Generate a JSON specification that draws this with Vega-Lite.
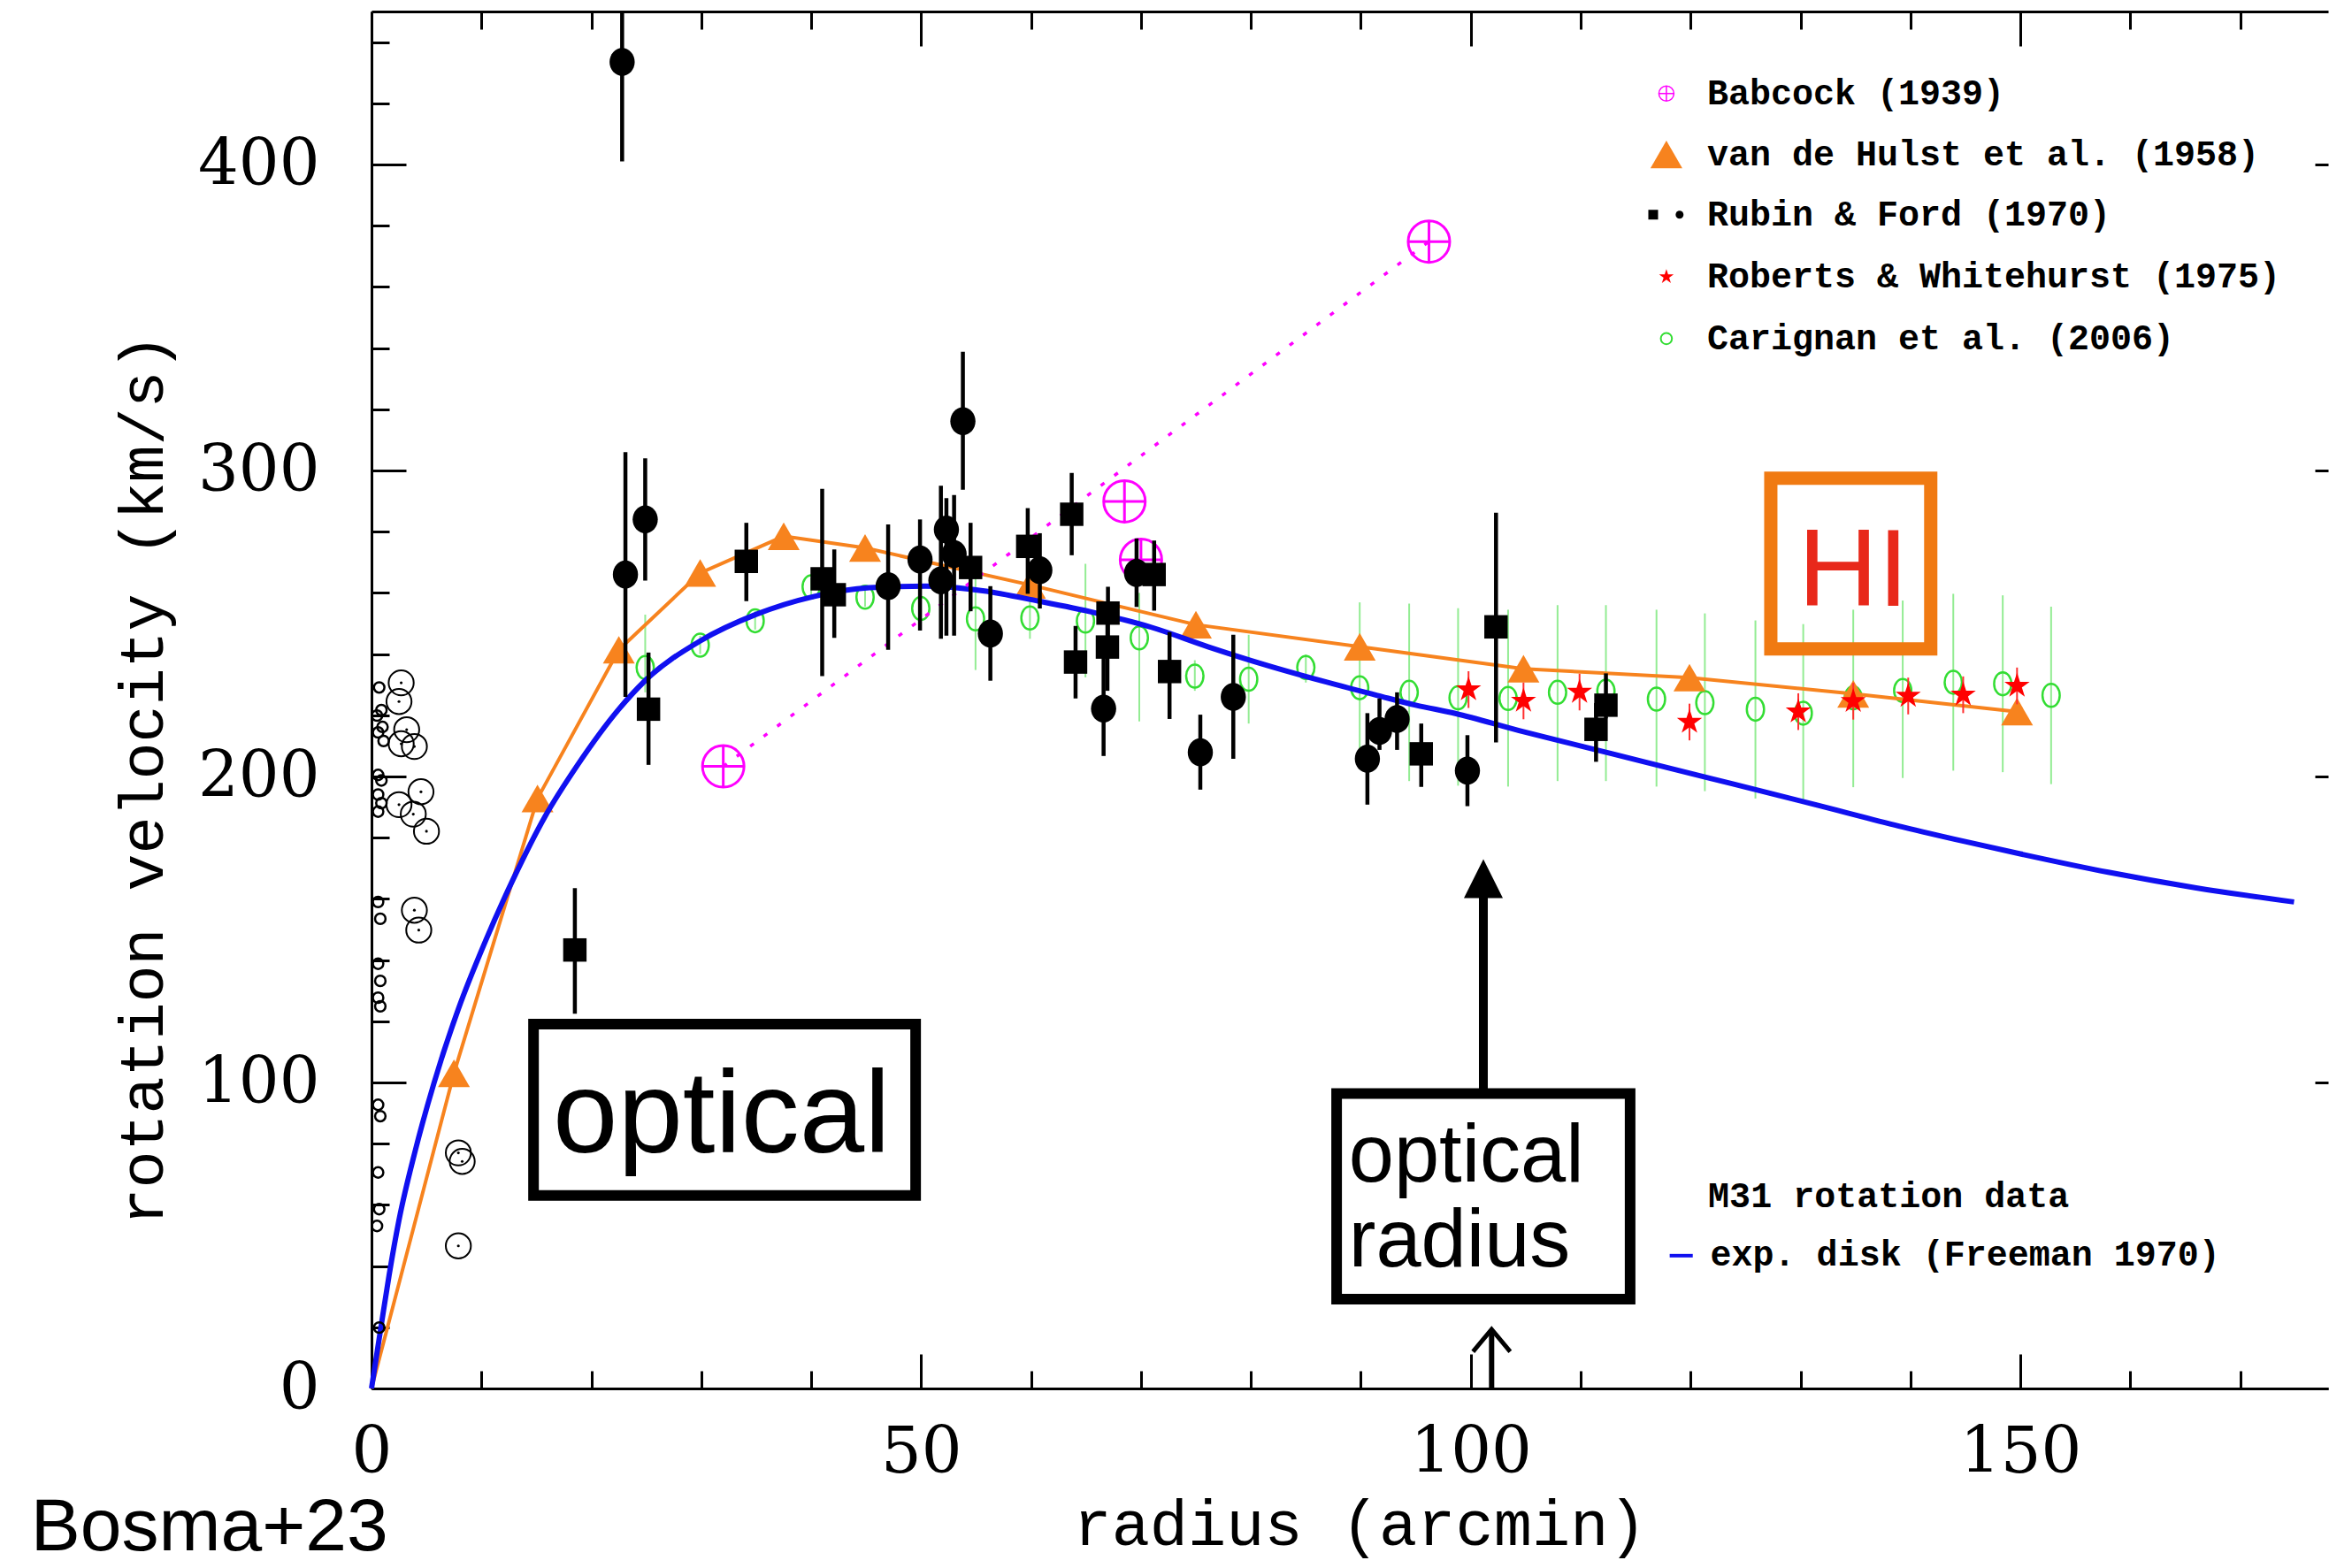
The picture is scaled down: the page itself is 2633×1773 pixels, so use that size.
{
  "$schema": "https://vega.github.io/schema/vega-lite/v6.json",
  "width": 2212,
  "height": 1557,
  "autosize": {"type": "none"},
  "padding": {"left": 420, "top": 13, "right": 1, "bottom": 203},
  "background": "white",
  "config": {"view": {"stroke": null}},
  "datasets": {
    "car": [
      {"x": 24.9, "y": 235.6, "lo": 227.5, "hi": 252.9},
      {"x": 29.9, "y": 242.9, "lo": 240, "hi": 246},
      {"x": 34.9, "y": 250.9, "lo": 248, "hi": 254},
      {"x": 40.0, "y": 262.0, "lo": 259, "hi": 265},
      {"x": 44.9, "y": 258.6, "lo": 255.5, "hi": 261.5},
      {"x": 49.97, "y": 254.9, "lo": 250, "hi": 260},
      {"x": 54.95, "y": 251.5, "lo": 234.8, "hi": 268.9},
      {"x": 59.9, "y": 251.8, "lo": 245, "hi": 258.5},
      {"x": 64.95, "y": 250.8, "lo": 232.4, "hi": 269.5},
      {"x": 69.85, "y": 245.3, "lo": 218, "hi": 260},
      {"x": 74.9, "y": 232.8, "lo": 228, "hi": 238},
      {"x": 79.8, "y": 231.8, "lo": 217.3, "hi": 246.3},
      {"x": 85.0, "y": 235.6, "lo": 230.7, "hi": 239.9},
      {"x": 89.9, "y": 229.0, "lo": 204.9, "hi": 256.9},
      {"x": 94.4, "y": 227.5, "lo": 198.5, "hi": 256.5},
      {"x": 98.85, "y": 225.7, "lo": 197, "hi": 255},
      {"x": 103.4, "y": 225.5, "lo": 196.7, "hi": 254.5},
      {"x": 107.9, "y": 227.5, "lo": 198.5, "hi": 256},
      {"x": 112.3, "y": 227.9, "lo": 198.5, "hi": 256},
      {"x": 116.9, "y": 225.3, "lo": 196.7, "hi": 254.5},
      {"x": 121.3, "y": 224.1, "lo": 195.2, "hi": 253.3},
      {"x": 125.9, "y": 222.0, "lo": 192.8, "hi": 251},
      {"x": 130.25, "y": 220.7, "lo": 191.8, "hi": 249.8},
      {"x": 134.8, "y": 225.7, "lo": 196.5, "hi": 254.5},
      {"x": 139.3, "y": 228.1, "lo": 199.5, "hi": 257.5},
      {"x": 143.9, "y": 230.8, "lo": 201.9, "hi": 259.7},
      {"x": 148.4, "y": 230.3, "lo": 201.4, "hi": 259.2},
      {"x": 152.8, "y": 226.5, "lo": 197.5, "hi": 255.5}
    ],
    "vdh": [
      {"x": 0, "y": 0},
      {"x": 7.5, "y": 103},
      {"x": 15.1, "y": 192.8},
      {"x": 22.5, "y": 241.4},
      {"x": 29.9, "y": 266.5},
      {"x": 37.5, "y": 278.5},
      {"x": 44.9, "y": 274.7},
      {"x": 59.9, "y": 262.6},
      {"x": 75.0, "y": 249.6},
      {"x": 89.9, "y": 242.4},
      {"x": 104.8, "y": 235.2},
      {"x": 119.9, "y": 232.3},
      {"x": 134.8, "y": 227.0},
      {"x": 149.7, "y": 221.2}
    ],
    "disk": [
      {"x": 0, "y": 0}, {"x": 0.9, "y": 21}, {"x": 1.6, "y": 37}, {"x": 2.5, "y": 55},
      {"x": 4.0, "y": 78}, {"x": 5.7, "y": 100}, {"x": 7.9, "y": 124}, {"x": 10.4, "y": 146.5},
      {"x": 12.9, "y": 166.5}, {"x": 15.8, "y": 187}, {"x": 18.7, "y": 203.5}, {"x": 22.5, "y": 222},
      {"x": 24.8, "y": 231}, {"x": 29.9, "y": 244.3}, {"x": 35.0, "y": 253}, {"x": 40.2, "y": 258.8},
      {"x": 45.3, "y": 261.7}, {"x": 50.4, "y": 262.2}, {"x": 55.6, "y": 260.7}, {"x": 60.7, "y": 257.3},
      {"x": 65.8, "y": 253.5}, {"x": 71.0, "y": 248.7}, {"x": 76.1, "y": 242.4}, {"x": 81.2, "y": 236.6},
      {"x": 86.4, "y": 231.3}, {"x": 91.5, "y": 226.5}, {"x": 95.0, "y": 223.3}, {"x": 98.6, "y": 220.6},
      {"x": 104.4, "y": 215}, {"x": 110.2, "y": 209.8}, {"x": 116.0, "y": 204.6}, {"x": 121.8, "y": 199.4},
      {"x": 127.6, "y": 194.2}, {"x": 133.4, "y": 188.9}, {"x": 139.3, "y": 183.5}, {"x": 145.0, "y": 178.7},
      {"x": 150.0, "y": 174.7}, {"x": 158.0, "y": 168.7}, {"x": 166.0, "y": 163.6}, {"x": 174.9, "y": 159}
    ],
    "bab": [
      {"x": 32.0, "y": 203.3},
      {"x": 68.5, "y": 289.9},
      {"x": 70.0, "y": 270.8},
      {"x": 96.2, "y": 374.8}
    ],
    "babline": [
      {"x": 32.0, "y": 203.3},
      {"x": 96.2, "y": 374.8}
    ],
    "rfc": [
      {"x": 22.8, "y": 433.5, "lo": 401, "hi": 450},
      {"x": 23.1, "y": 266, "lo": 226, "hi": 306},
      {"x": 24.9, "y": 284, "lo": 264, "hi": 304},
      {"x": 47.0, "y": 262.2, "lo": 241.4, "hi": 282.4},
      {"x": 49.9, "y": 270.9, "lo": 247.7, "hi": 284},
      {"x": 52.3, "y": 280.7, "lo": 246, "hi": 291},
      {"x": 53.0, "y": 272.7, "lo": 246, "hi": 292},
      {"x": 51.8, "y": 264.1, "lo": 245, "hi": 295},
      {"x": 53.8, "y": 316.1, "lo": 293.7, "hi": 338.8},
      {"x": 56.3, "y": 246.7, "lo": 231.3, "hi": 262.2},
      {"x": 60.8, "y": 267.4, "lo": 254.9, "hi": 279.5},
      {"x": 69.6, "y": 266.5, "lo": 255.4, "hi": 277.8},
      {"x": 66.6, "y": 222.2, "lo": 206.7, "hi": 239},
      {"x": 75.4, "y": 207.9, "lo": 195.7, "hi": 220.2},
      {"x": 78.4, "y": 226, "lo": 205.8, "hi": 246.3},
      {"x": 90.6, "y": 205.8, "lo": 190.8, "hi": 220.7},
      {"x": 91.7, "y": 214.9, "lo": 208.7, "hi": 225.5},
      {"x": 93.3, "y": 218.8, "lo": 208.7, "hi": 227.5},
      {"x": 99.7, "y": 201.9, "lo": 190.3, "hi": 213.5}
    ],
    "rfs": [
      {"x": 18.5, "y": 143.3, "lo": 122.5, "hi": 163.5},
      {"x": 25.2, "y": 222, "lo": 203.8, "hi": 240.5},
      {"x": 34.1, "y": 270.3, "lo": 257.3, "hi": 282.9},
      {"x": 41.0, "y": 264.6, "lo": 232.8, "hi": 294},
      {"x": 42.1, "y": 259.4, "lo": 245.3, "hi": 274.2},
      {"x": 54.5, "y": 268.3, "lo": 254, "hi": 282.9},
      {"x": 59.7, "y": 275.2, "lo": 259.7, "hi": 287.7},
      {"x": 63.7, "y": 285.7, "lo": 272.3, "hi": 299.2},
      {"x": 64.05, "y": 237.4, "lo": 225.5, "hi": 249.2},
      {"x": 67.0, "y": 253.4, "lo": 244, "hi": 262},
      {"x": 66.95, "y": 242.3, "lo": 228, "hi": 252},
      {"x": 71.2, "y": 266, "lo": 254.2, "hi": 277.1},
      {"x": 72.6, "y": 234.3, "lo": 218.8, "hi": 247.2},
      {"x": 95.5, "y": 207.4, "lo": 196.6, "hi": 217.3},
      {"x": 102.3, "y": 248.9, "lo": 211.1, "hi": 286.2},
      {"x": 111.4, "y": 215.4, "lo": 204.8, "hi": 224},
      {"x": 112.3, "y": 223.3, "lo": 219, "hi": 233.7}
    ],
    "rw": [
      {"x": 99.8, "y": 228.4, "lo": 222.4, "hi": 234.4},
      {"x": 104.8, "y": 224.7, "lo": 218.7, "hi": 230.7},
      {"x": 109.9, "y": 227.6, "lo": 221.6, "hi": 233.6},
      {"x": 119.9, "y": 217.8, "lo": 211.8, "hi": 223.8},
      {"x": 129.8, "y": 221.2, "lo": 215.2, "hi": 227.2},
      {"x": 134.8, "y": 224.6, "lo": 218.6, "hi": 230.6},
      {"x": 139.8, "y": 226.3, "lo": 220.3, "hi": 232.3},
      {"x": 144.8, "y": 226.7, "lo": 220.7, "hi": 232.7},
      {"x": 149.7, "y": 229.6, "lo": 223.6, "hi": 235.6}
    ],
    "ocbig": [
      {"x": 2.7, "y": 230.6}, {"x": 2.5, "y": 224.5}, {"x": 3.2, "y": 215.3}, {"x": 2.7, "y": 210.7},
      {"x": 3.9, "y": 209.8}, {"x": 4.5, "y": 195.0}, {"x": 2.5, "y": 190.8}, {"x": 3.8, "y": 187.7},
      {"x": 5.0, "y": 182.1}, {"x": 3.9, "y": 156.3}, {"x": 4.3, "y": 149.8}, {"x": 7.9, "y": 77.0},
      {"x": 8.25, "y": 74.2}, {"x": 7.9, "y": 46.6}
    ],
    "ocsmall": [
      {"x": 0.7, "y": 229.1}, {"x": 0.9, "y": 221.7}, {"x": 0.5, "y": 219.9}, {"x": 1.0, "y": 216.2},
      {"x": 0.6, "y": 214.4}, {"x": 1.1, "y": 211.6}, {"x": 0.6, "y": 200.5}, {"x": 0.9, "y": 198.7},
      {"x": 0.6, "y": 194.1}, {"x": 0.9, "y": 191.3}, {"x": 0.6, "y": 188.5}, {"x": 0.6, "y": 159.0},
      {"x": 0.8, "y": 153.5}, {"x": 0.6, "y": 138.8}, {"x": 0.8, "y": 133.2}, {"x": 0.6, "y": 127.7},
      {"x": 0.8, "y": 124.9}, {"x": 0.6, "y": 92.7}, {"x": 0.8, "y": 89.0}, {"x": 0.6, "y": 70.6},
      {"x": 0.7, "y": 58.6}, {"x": 0.5, "y": 53.1}, {"x": 0.7, "y": 19.9}
    ],
    "legend": [
      {"x": 121.5, "y": 423.2, "t": "Babcock (1939)"},
      {"x": 121.5, "y": 403.3, "t": "van de Hulst et al. (1958)"},
      {"x": 121.5, "y": 383.6, "t": "Rubin & Ford (1970)"},
      {"x": 121.5, "y": 363.3, "t": "Roberts & Whitehurst (1975)"},
      {"x": 121.5, "y": 343.1, "t": "Carignan et al. (2006)"},
      {"x": 121.6, "y": 62.8, "t": "M31 rotation data"},
      {"x": 121.8, "y": 43.7, "t": "exp. disk (Freeman 1970)"}
    ]
  },
  "layer": [
    {
      "data": {"name": "car"},
      "mark": {"type": "rule", "color": "#93ec93", "strokeWidth": 2},
      "encoding": {
        "x": {
          "field": "x", "type": "quantitative",
          "scale": {"domain": [0, 178], "nice": false, "zero": false},
          "axis": {
            "orient": "bottom",
            "values": [0, 10, 20, 30, 40, 50, 60, 70, 80, 90, 100, 110, 120, 130, 140, 150, 160, 170],
            "labelExpr": "datum.value % 50 === 0 ? datum.label : ''",
            "labelFont": "DejaVu Serif", "labelFontSize": 72, "labelColor": "black", "labelPadding": 76,
            "labelFlush": false, "labelOverlap": false,
            "tickSize": {"condition": {"test": "datum.value % 50 === 0", "value": -39}, "value": -20},
            "tickWidth": 3, "tickColor": "black",
            "domainWidth": 3, "domainColor": "black", "grid": false,
            "title": "radius (arcmin)", "titleFont": "Liberation Mono", "titleFontSize": 72,
            "titleFontWeight": "normal", "titleColor": "black",
            "titleX": 1117, "titleY": 176, "titleBaseline": "alphabetic", "titleAlign": "center"
          }
        },
        "y": {
          "field": "lo", "type": "quantitative",
          "scale": {"domain": [0, 450], "nice": false, "zero": false},
          "axis": {
            "orient": "left",
            "values": [0, 20, 40, 60, 80, 100, 120, 140, 160, 180, 200, 220, 240, 260, 280, 300, 320, 340, 360, 380, 400, 420, 440],
            "labelExpr": "datum.value % 100 === 0 ? datum.label : ''",
            "labelFont": "DejaVu Serif", "labelFontSize": 72, "labelColor": "black", "labelPadding": 98,
            "labelFlush": false, "labelOverlap": false,
            "tickSize": {"condition": {"test": "datum.value % 100 === 0", "value": -39}, "value": -20},
            "tickWidth": 3, "tickColor": "black",
            "domainWidth": 3, "domainColor": "black", "grid": false,
            "title": "rotation velocity (km/s)", "titleFont": "Liberation Mono", "titleFontSize": 70,
            "titleFontWeight": "normal", "titleColor": "black", "titleAngle": -90,
            "titleX": -237, "titleY": 868, "titleBaseline": "alphabetic", "titleAlign": "center"
          }
        },
        "y2": {"field": "hi"}
      }
    },
    {
      "data": {"name": "car"},
      "mark": {"type": "point", "shape": "M-0.75,0A0.75,1,0,1,1,0.75,0A0.75,1,0,1,1,-0.75,0Z", "filled": false, "color": "#33dd33", "strokeWidth": 2.5, "size": 676, "opacity": 1},
      "encoding": {
        "x": {
          "field": "x", "type": "quantitative",
          "axis": {
            "orient": "top",
            "values": [0, 10, 20, 30, 40, 50, 60, 70, 80, 90, 100, 110, 120, 130, 140, 150, 160, 170],
            "labels": false,
            "tickSize": {"condition": {"test": "datum.value % 50 === 0", "value": -39}, "value": -20},
            "tickWidth": 3, "tickColor": "black",
            "domainWidth": 3, "domainColor": "black", "grid": false, "title": null
          }
        },
        "y": {
          "field": "y", "type": "quantitative",
          "axis": {
            "orient": "right",
            "values": [0, 100, 200, 300, 400],
            "labels": false, "tickSize": -15, "tickWidth": 3, "tickColor": "black",
            "domain": false, "grid": false, "title": null
          }
        }
      }
    },
    {
      "data": {"name": "vdh"},
      "mark": {"type": "line", "color": "#f7831e", "strokeWidth": 4},
      "encoding": {
        "x": {"field": "x", "type": "quantitative", "axis": null},
        "y": {"field": "y", "type": "quantitative", "axis": null}
      }
    },
    {
      "data": {"name": "vdh"},
      "transform": [{"filter": "datum.x > 0"}],
      "mark": {"type": "point", "shape": "triangle-up", "filled": true, "color": "#f7831e", "size": 1300, "opacity": 1},
      "encoding": {
        "x": {"field": "x", "type": "quantitative", "axis": null},
        "y": {"field": "y", "type": "quantitative", "axis": null}
      }
    },
    {
      "data": {"name": "disk"},
      "mark": {"type": "line", "color": "#1010f0", "strokeWidth": 6, "interpolate": "monotone"},
      "encoding": {
        "x": {"field": "x", "type": "quantitative", "axis": null},
        "y": {"field": "y", "type": "quantitative", "axis": null}
      }
    },
    {
      "data": {"name": "babline"},
      "mark": {"type": "line", "color": "#ff00ff", "strokeWidth": 3.5, "strokeDash": [5, 14]},
      "encoding": {
        "x": {"field": "x", "type": "quantitative", "axis": null},
        "y": {"field": "y", "type": "quantitative", "axis": null}
      }
    },
    {
      "data": {"name": "bab"},
      "mark": {"type": "point", "shape": "M-1,0A1,1,0,1,1,1,0A1,1,0,1,1,-1,0M-1,0L1,0M0,-1L0,1", "filled": false, "color": "#ff00ff", "strokeWidth": 3, "size": 2209, "opacity": 1},
      "encoding": {
        "x": {"field": "x", "type": "quantitative", "axis": null},
        "y": {"field": "y", "type": "quantitative", "axis": null}
      }
    },
    {
      "data": {"name": "rfc"},
      "mark": {"type": "rule", "color": "black", "strokeWidth": 4.5},
      "encoding": {
        "x": {"field": "x", "type": "quantitative", "axis": null},
        "y": {"field": "lo", "type": "quantitative", "axis": null},
        "y2": {"field": "hi"}
      }
    },
    {
      "data": {"name": "rfs"},
      "mark": {"type": "rule", "color": "black", "strokeWidth": 4.5},
      "encoding": {
        "x": {"field": "x", "type": "quantitative", "axis": null},
        "y": {"field": "lo", "type": "quantitative", "axis": null},
        "y2": {"field": "hi"}
      }
    },
    {
      "data": {"name": "rfc"},
      "mark": {"type": "point", "shape": "M-0.9,0A0.9,1,0,1,1,0.9,0A0.9,1,0,1,1,-0.9,0Z", "filled": true, "color": "black", "size": 1000, "opacity": 1},
      "encoding": {
        "x": {"field": "x", "type": "quantitative", "axis": null},
        "y": {"field": "y", "type": "quantitative", "axis": null}
      }
    },
    {
      "data": {"name": "rfs"},
      "mark": {"type": "square", "color": "black", "size": 700, "opacity": 1},
      "encoding": {
        "x": {"field": "x", "type": "quantitative", "axis": null},
        "y": {"field": "y", "type": "quantitative", "axis": null}
      }
    },
    {
      "data": {"name": "rw"},
      "mark": {"type": "rule", "color": "#ff3030", "strokeWidth": 2},
      "encoding": {
        "x": {"field": "x", "type": "quantitative", "axis": null},
        "y": {"field": "lo", "type": "quantitative", "axis": null},
        "y2": {"field": "hi"}
      }
    },
    {
      "data": {"name": "rw"},
      "mark": {"type": "point", "shape": "M0,-1L0.2245,-0.309L0.951,-0.309L0.363,0.118L0.588,0.809L0,0.382L-0.588,0.809L-0.363,0.118L-0.951,-0.309L-0.2245,-0.309Z", "filled": true, "color": "#ff0000", "size": 900, "opacity": 1},
      "encoding": {
        "x": {"field": "x", "type": "quantitative", "axis": null},
        "y": {"field": "y", "type": "quantitative", "axis": null}
      }
    },
    {
      "data": {"name": "ocbig"},
      "mark": {"type": "point", "shape": "circle", "filled": false, "color": "black", "strokeWidth": 2, "size": 804, "opacity": 1},
      "encoding": {
        "x": {"field": "x", "type": "quantitative", "axis": null},
        "y": {"field": "y", "type": "quantitative", "axis": null}
      }
    },
    {
      "data": {"name": "ocbig"},
      "mark": {"type": "point", "shape": "circle", "filled": true, "color": "black", "size": 10, "opacity": 1},
      "encoding": {
        "x": {"field": "x", "type": "quantitative", "axis": null},
        "y": {"field": "y", "type": "quantitative", "axis": null}
      }
    },
    {
      "data": {"name": "ocsmall"},
      "mark": {"type": "point", "shape": "circle", "filled": false, "color": "black", "strokeWidth": 2.5, "size": 140, "opacity": 1},
      "encoding": {
        "x": {"field": "x", "type": "quantitative", "axis": null},
        "y": {"field": "y", "type": "quantitative", "axis": null}
      }
    },
    {
      "data": {"values": [
        {"x": 14.74, "x2": 49.5, "y": 63.05, "y2": 119.1},
        {"x": 87.8, "x2": 114.5, "y": 29.2, "y2": 96.4}
      ]},
      "mark": {"type": "rect", "fillOpacity": 0, "stroke": "black", "strokeWidth": 12},
      "encoding": {
        "x": {"field": "x", "type": "quantitative", "axis": null},
        "x2": {"field": "x2"},
        "y": {"field": "y", "type": "quantitative", "axis": null},
        "y2": {"field": "y2"}
      }
    },
    {
      "data": {"values": [{"x": 127.3, "x2": 141.85, "y": 241.7, "y2": 297.5}]},
      "mark": {"type": "rect", "fillOpacity": 0, "stroke": "#f07a12", "strokeWidth": 15},
      "encoding": {
        "x": {"field": "x", "type": "quantitative", "axis": null},
        "x2": {"field": "x2"},
        "y": {"field": "y", "type": "quantitative", "axis": null},
        "y2": {"field": "y2"}
      }
    },
    {
      "data": {"values": [{"x": 16.5, "y": 77.1, "t": "optical"}]},
      "mark": {"type": "text", "font": "Liberation Sans", "fontSize": 132, "align": "left", "baseline": "alphabetic", "color": "black"},
      "encoding": {
        "x": {"field": "x", "type": "quantitative", "axis": null},
        "y": {"field": "y", "type": "quantitative", "axis": null},
        "text": {"field": "t"}
      }
    },
    {
      "data": {"values": [{"x": 88.9, "y": 67.5, "t": "optical"}, {"x": 88.9, "y": 40.0, "t": "radius"}]},
      "mark": {"type": "text", "font": "Liberation Sans", "fontSize": 92, "align": "left", "baseline": "alphabetic", "color": "black"},
      "encoding": {
        "x": {"field": "x", "type": "quantitative", "axis": null},
        "y": {"field": "y", "type": "quantitative", "axis": null},
        "text": {"field": "t"}
      }
    },
    {
      "data": {"values": [{"x": 134.8, "y": 255.9, "t": "HI"}]},
      "mark": {"type": "text", "font": "Liberation Sans", "fontSize": 125, "align": "center", "baseline": "alphabetic", "color": "#e8281a"},
      "encoding": {
        "x": {"field": "x", "type": "quantitative", "axis": null},
        "y": {"field": "y", "type": "quantitative", "axis": null},
        "text": {"field": "t"}
      }
    },
    {
      "data": {"values": [{"x": -31.0, "y": -53.0, "t": "Bosma+23"}]},
      "mark": {"type": "text", "font": "Liberation Sans", "fontSize": 84, "align": "left", "baseline": "alphabetic", "color": "black"},
      "encoding": {
        "x": {"field": "x", "type": "quantitative", "axis": null},
        "y": {"field": "y", "type": "quantitative", "axis": null},
        "text": {"field": "t"}
      }
    },
    {
      "data": {"values": [{"x": 101.15, "y": 96.4, "y2": 161}]},
      "mark": {"type": "rule", "color": "black", "strokeWidth": 10},
      "encoding": {
        "x": {"field": "x", "type": "quantitative", "axis": null},
        "y": {"field": "y", "type": "quantitative", "axis": null},
        "y2": {"field": "y2"}
      }
    },
    {
      "data": {"values": [{"x": 101.15, "y": 166.6}]},
      "mark": {"type": "point", "shape": "M0,-1L1,1L-1,1Z", "filled": true, "color": "black", "size": 1936, "opacity": 1},
      "encoding": {
        "x": {"field": "x", "type": "quantitative", "axis": null},
        "y": {"field": "y", "type": "quantitative", "axis": null}
      }
    },
    {
      "data": {"values": [{"x": 101.9, "y": 0, "y2": 18.5}]},
      "mark": {"type": "rule", "color": "black", "strokeWidth": 6},
      "encoding": {
        "x": {"field": "x", "type": "quantitative", "axis": null},
        "y": {"field": "y", "type": "quantitative", "axis": null},
        "y2": {"field": "y2"}
      }
    },
    {
      "data": {"values": [{"x": 101.9, "y": 15.7}]},
      "mark": {"type": "point", "shape": "M-1,0.6L0,-0.6L1,0.6", "filled": false, "color": "black", "strokeWidth": 5, "size": 1764, "opacity": 1},
      "encoding": {
        "x": {"field": "x", "type": "quantitative", "axis": null},
        "y": {"field": "y", "type": "quantitative", "axis": null}
      }
    },
    {
      "data": {"name": "legend"},
      "mark": {"type": "text", "font": "Liberation Mono", "fontWeight": "bold", "fontSize": 40, "align": "left", "baseline": "middle", "color": "black"},
      "encoding": {
        "x": {"field": "x", "type": "quantitative", "axis": null},
        "y": {"field": "y", "type": "quantitative", "axis": null},
        "text": {"field": "t"}
      }
    },
    {
      "data": {"values": [{"x": 117.8, "y": 423.2}]},
      "mark": {"type": "point", "shape": "M-1,0A1,1,0,1,1,1,0A1,1,0,1,1,-1,0M-1,0L1,0M0,-1L0,1", "filled": false, "color": "#ff00ff", "strokeWidth": 1.5, "size": 289, "opacity": 1},
      "encoding": {
        "x": {"field": "x", "type": "quantitative", "axis": null},
        "y": {"field": "y", "type": "quantitative", "axis": null}
      }
    },
    {
      "data": {"values": [{"x": 117.8, "y": 403.3}]},
      "mark": {"type": "point", "shape": "triangle-up", "filled": true, "color": "#f7831e", "size": 1300, "opacity": 1},
      "encoding": {
        "x": {"field": "x", "type": "quantitative", "axis": null},
        "y": {"field": "y", "type": "quantitative", "axis": null}
      }
    },
    {
      "data": {"values": [{"x": 116.6, "y": 383.6}]},
      "mark": {"type": "square", "color": "black", "size": 121, "opacity": 1},
      "encoding": {
        "x": {"field": "x", "type": "quantitative", "axis": null},
        "y": {"field": "y", "type": "quantitative", "axis": null}
      }
    },
    {
      "data": {"values": [{"x": 119.0, "y": 383.6}]},
      "mark": {"type": "circle", "color": "black", "size": 80, "opacity": 1},
      "encoding": {
        "x": {"field": "x", "type": "quantitative", "axis": null},
        "y": {"field": "y", "type": "quantitative", "axis": null}
      }
    },
    {
      "data": {"values": [{"x": 117.8, "y": 363.3}]},
      "mark": {"type": "point", "shape": "M0,-1L0.2245,-0.309L0.951,-0.309L0.363,0.118L0.588,0.809L0,0.382L-0.588,0.809L-0.363,0.118L-0.951,-0.309L-0.2245,-0.309Z", "filled": true, "color": "#ff0000", "size": 300, "opacity": 1},
      "encoding": {
        "x": {"field": "x", "type": "quantitative", "axis": null},
        "y": {"field": "y", "type": "quantitative", "axis": null}
      }
    },
    {
      "data": {"values": [{"x": 117.8, "y": 343.1}]},
      "mark": {"type": "point", "shape": "circle", "filled": false, "color": "#33dd33", "strokeWidth": 2, "size": 160, "opacity": 1},
      "encoding": {
        "x": {"field": "x", "type": "quantitative", "axis": null},
        "y": {"field": "y", "type": "quantitative", "axis": null}
      }
    },
    {
      "data": {"values": [{"x": 118.1, "x2": 120.2, "y": 43.4}]},
      "mark": {"type": "rule", "color": "#1010f0", "strokeWidth": 4},
      "encoding": {
        "x": {"field": "x", "type": "quantitative", "axis": null},
        "x2": {"field": "x2"},
        "y": {"field": "y", "type": "quantitative", "axis": null}
      }
    }
  ],
  "resolve": {"axis": {"x": "independent", "y": "independent"}}
}
